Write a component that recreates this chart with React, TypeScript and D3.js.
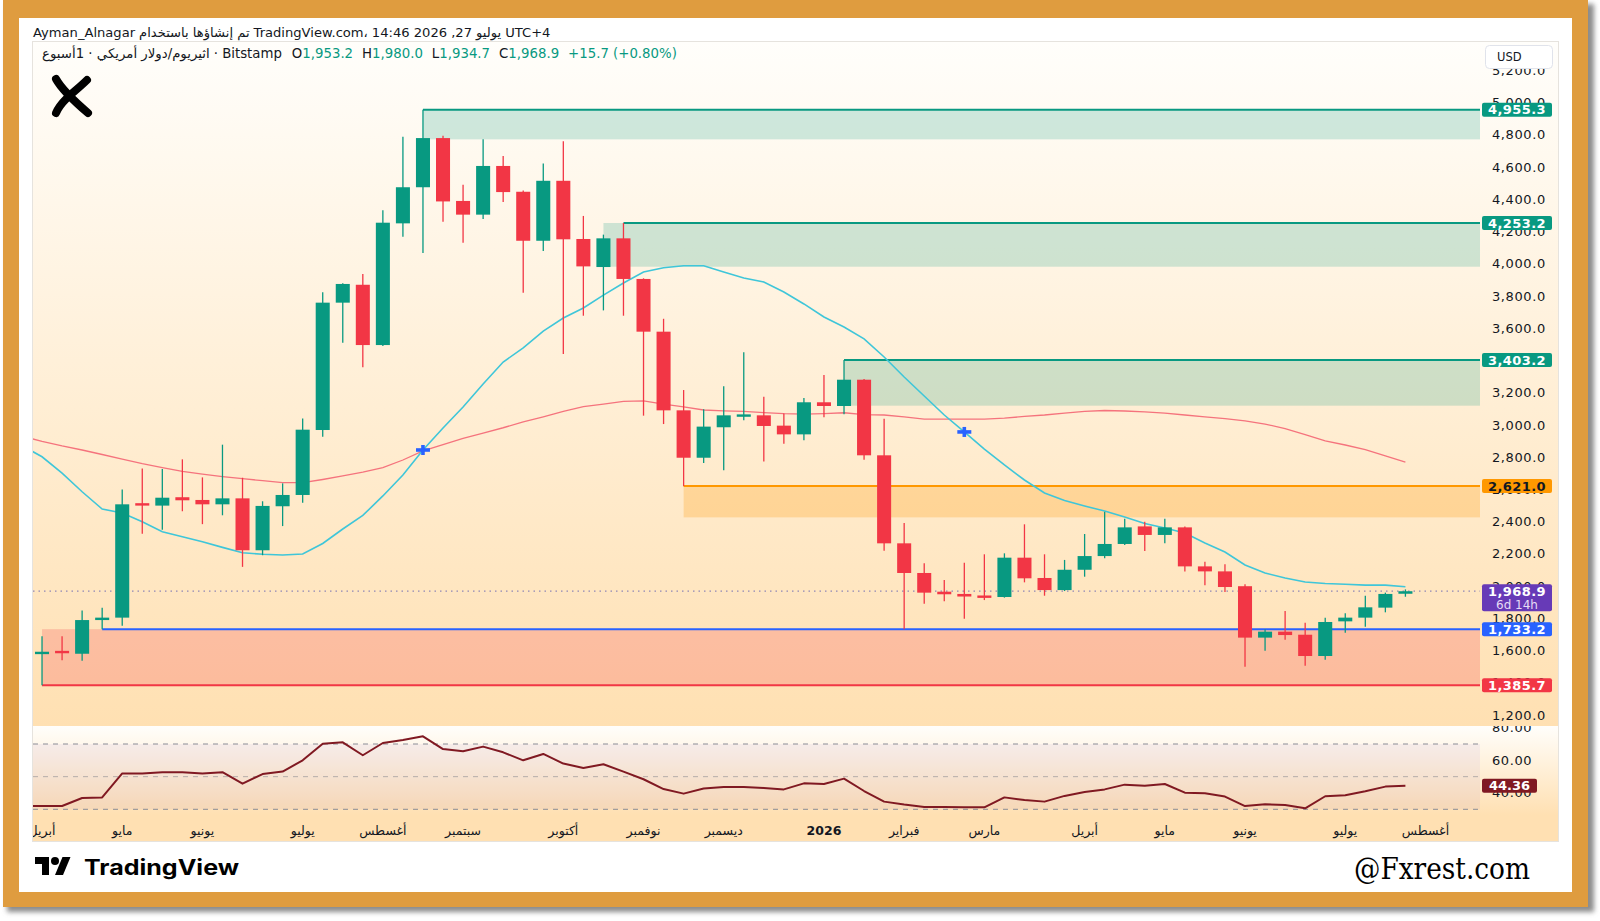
import { useLayoutEffect, useRef, useState } from 'react';
import * as d3 from 'd3';

// ETH/USD weekly candles (Bitstamp)
const open = [1580, 1598, 1581, 1790, 1805, 2515, 2500, 2552, 2535, 2508, 2545, 2223, 2496, 2566, 2969, 3759, 3870, 3496, 4251, 4475, 4780, 4390, 4305, 4607, 4447, 4143, 4515, 4154, 3980, 4158, 3906, 3579, 3091, 2797, 2986, 3055, 3060, 2996, 2942, 3141, 3118, 3281, 2812, 2266, 2082, 1966, 1952, 1940, 1933, 2177, 2051, 1976, 2102, 2187, 2262, 2371, 2318, 2365, 2123, 2092, 2000, 1681, 1718, 1699, 1567, 1782, 1805, 1867, 1953.2];
const high = [1690, 1690, 1850, 1867, 2600, 2730, 2727, 2787, 2675, 2878, 2673, 2527, 2638, 3041, 3823, 3880, 3937, 4332, 4788, 4955, 4795, 4491, 4772, 4669, 4455, 4623, 4760, 4297, 4181, 4253, 3910, 3659, 3217, 3097, 3240, 3451, 3176, 3072, 3167, 3310, 3403, 3285, 3039, 2392, 2142, 2038, 2146, 2198, 2204, 2384, 2198, 2163, 2324, 2462, 2419, 2400, 2419, 2370, 2152, 2136, 2012, 1733, 1846, 1774, 1805, 1832, 1941, 1960, 1980.0];
const low = [1386, 1540, 1538, 1733, 1755, 2325, 2350, 2465, 2385, 2440, 2120, 2192, 2373, 2518, 2927, 3511, 3358, 3490, 4168, 4067, 4261, 4131, 4278, 4383, 3821, 4079, 3440, 3678, 3711, 3678, 3058, 3006, 2621, 2764, 2719, 3030, 2773, 2884, 2905, 3048, 3066, 2785, 2220, 1733, 1891, 1906, 1798, 1914, 1929, 2024, 1941, 1970, 2059, 2173, 2255, 2218, 2266, 2092, 2006, 1964, 1501, 1600, 1668, 1507, 1544, 1712, 1749, 1838, 1934.7];
const close = [1592, 1585, 1790, 1805, 2508, 2500, 2549, 2533, 2508, 2545, 2223, 2498, 2566, 2971, 3759, 3875, 3496, 4255, 4475, 4780, 4387, 4305, 4607, 4445, 4143, 4515, 4152, 3984, 4158, 3906, 3579, 3091, 2797, 2990, 3060, 3062, 2994, 2942, 3141, 3118, 3281, 2812, 2266, 2082, 1960, 1950, 1936, 1930, 2177, 2049, 1976, 2102, 2187, 2262, 2365, 2318, 2365, 2123, 2092, 1995, 1681, 1718, 1697, 1567, 1778, 1805, 1869, 1952, 1968.9];

// moving averages as drawn (cyan fast, red slow); first value = the week before the first candle
const maFast = [2872, 2803, 2702, 2586, 2479, 2454, 2400, 2338, 2307, 2276, 2241, 2208, 2198, 2194, 2200, 2265, 2355, 2439, 2560, 2690, 2845, 2981, 3112, 3254, 3391, 3478, 3583, 3664, 3726, 3806, 3881, 3949, 3976, 3988, 3988, 3949, 3912, 3887, 3825, 3751, 3670, 3608, 3534, 3422, 3298, 3180, 3062, 2957, 2851, 2752, 2659, 2578, 2532, 2498, 2466, 2429, 2389, 2361, 2330, 2268, 2212, 2132, 2082, 2051, 2026, 2017, 2012, 2007, 2007, 1997];
const maSlow = [2932, 2898, 2870, 2845, 2817, 2789, 2761, 2736, 2712, 2695, 2680, 2667, 2655, 2643, 2642, 2662, 2684, 2708, 2736, 2783, 2839, 2879, 2917, 2950, 2983, 3019, 3051, 3084, 3114, 3130, 3147, 3150, 3130, 3112, 3093, 3088, 3085, 3077, 3071, 3068, 3071, 3076, 3065, 3062, 3050, 3037, 3037, 3037, 3037, 3043, 3053, 3062, 3074, 3084, 3090, 3087, 3081, 3074, 3062, 3050, 3040, 3025, 3006, 2978, 2941, 2901, 2876, 2848, 2808, 2770];
const rsi = [32.0, 32.0, 32.0, 36.9, 37.3, 52.0, 52.0, 52.7, 52.7, 52.0, 52.7, 45.7, 51.6, 53.1, 60.0, 70.2, 71.0, 63.1, 70.6, 72.4, 74.7, 66.9, 65.5, 68.4, 64.9, 60.0, 63.9, 58.0, 55.3, 57.6, 53.1, 48.4, 42.4, 39.6, 42.7, 43.7, 43.7, 43.1, 42.2, 45.9, 45.5, 48.8, 41.2, 34.7, 32.9, 31.4, 31.4, 31.2, 31.2, 37.3, 35.7, 34.7, 38.2, 40.6, 42.2, 45.1, 44.5, 45.5, 40.2, 39.8, 37.8, 32.0, 33.1, 32.7, 30.6, 38.0, 38.6, 41.0, 43.9, 44.36];
const crossBars = [19, 46];

const monthTicks: [string, string][] = [
  ['2025-04-07', 'أبريل'], ['2025-05-05', 'مايو'], ['2025-06-02', 'يونيو'], ['2025-07-07', 'يوليو'],
  ['2025-08-04', 'أغسطس'], ['2025-09-01', 'سبتمبر'], ['2025-10-06', 'أكتوبر'], ['2025-11-03', 'نوفمبر'],
  ['2025-12-01', 'ديسمبر'], ['2026-01-05', '2026'], ['2026-02-02', 'فبراير'], ['2026-03-02', 'مارس'],
  ['2026-04-06', 'أبريل'], ['2026-05-04', 'مايو'], ['2026-06-01', 'يونيو'], ['2026-07-06', 'يوليو'],
  ['2026-08-03', 'أغسطس'],
];
const priceTicks = [1200, 1400, 1600, 1800, 2000, 2200, 2400, 2600, 2800, 3000, 3200, 3400, 3600, 3800, 4000, 4200, 4400, 4600, 4800, 5000, 5200];
const rsiTicks = [40, 60, 80];

const zones = [
  { top: 4955.3, bottom: 4772, from: 19, lineFrom: 19, color: 'green' },
  { top: 4253.2, bottom: 3982, from: 28, lineFrom: 29, color: 'green' },
  { top: 3403.2, bottom: 3120, from: 40, lineFrom: 40, color: 'green' },
  { top: 2621.0, bottom: 2427, from: 32, lineFrom: 32, color: 'orange' },
  { top: 1733.2, bottom: 1385.7, from: 0, lineFrom: 3, color: 'red' },
];
const lastPrice = 1968.9;
const lastRsi = 44.36;

const GREEN = '#089981';
const RED = '#f23645';
const BLUE = '#2962ff';
const ORANGE = '#ff9800';
const TEXT = '#131722';
const FONT = 'DejaVu Sans';

const weeks = d3.timeMonday.range(new Date(2025, 3, 7), new Date(2026, 7, 11));
const parse = d3.timeParse('%Y-%m-%d');
const fmt = d3.format(',.1f');

type Run = { t: string; gap?: number; fill?: string; weight?: number };

function TextRow({ x, y, runs, size = 12.5 }: { x: number; y: number; runs: Run[]; size?: number }) {
  const refs = useRef<(SVGTextElement | null)[]>([]);
  const [xs, setXs] = useState<number[] | null>(null);
  useLayoutEffect(() => {
    let cx = x;
    const out: number[] = [];
    runs.forEach((r, i) => {
      out.push(cx);
      const el = refs.current[i];
      cx += (el ? el.getComputedTextLength() : 0) + (r.gap ?? 0);
    });
    setXs(out);
  }, []);
  return (
    <g fontFamily={FONT} fontSize={size}>
      {runs.map((r, i) => (
        <text key={i} ref={(el) => { refs.current[i] = el; }} x={xs ? xs[i] : x} y={y}
          fill={r.fill ?? TEXT} fontWeight={r.weight ?? 400} visibility={xs ? 'visible' : 'hidden'}>{r.t}</text>
      ))}
    </g>
  );
}

const App = () => {
  const x = d3.scaleLinear().domain([-0.45, 71.72]).range([33, 1480]);
  const y = d3.scaleLinear().domain([1139, 5376]).range([725, 42]);
  const ry = d3.scaleLinear().domain([30, 70]).range([809.3, 744]);
  const [pl, pr] = x.range();
  const bw = (x(1) - x(0)) * 0.7;
  const idxOf = (s: string) => d3.timeMonday.count(weeks[0], parse(s) as Date);

  // series that start one week before the first candle
  const lineP = d3.line<number>().x((_, i) => x(i - 1)).y((d) => y(d));
  const lineR = d3.line<number>().x((_, i) => x(i - 1)).y((d) => ry(d));

  const zoneFill: Record<string, string> = { green: 'rgba(8,153,129,0.2)', orange: 'rgba(255,152,0,0.25)', red: 'rgba(242,54,69,0.22)' };
  const zoneLine: Record<string, string> = { green: GREEN, orange: ORANGE, red: BLUE };

  const badges = [
    { v: 4955.3, bg: GREEN, fg: '#fff' },
    { v: 4253.2, bg: GREEN, fg: '#fff' },
    { v: 3403.2, bg: GREEN, fg: '#fff' },
    { v: 2621.0, bg: ORANGE, fg: TEXT },
    { v: 1733.2, bg: BLUE, fg: '#fff' },
    { v: 1385.7, bg: RED, fg: '#fff' },
  ];

  const header1: Run[] = [
    { t: 'Ayman_Alnagar', gap: 4 },
    { t: 'تم إنشاؤها باستخدام', gap: 4 },
    { t: 'TradingView.com،', gap: 4 },
    { t: '14:46 2026 ,27', gap: 4 },
    { t: 'يوليو', gap: 4 },
    { t: 'UTC+4' },
  ];
  const header2: Run[] = [
    { t: 'اثيريوم/دولار أمريكي · 1أسبوع', gap: 4 },
    { t: '· Bitstamp', gap: 10 },
    { t: 'O' }, { t: fmt(open[68]), fill: GREEN, gap: 9 },
    { t: 'H' }, { t: fmt(high[68]), fill: GREEN, gap: 9 },
    { t: 'L' }, { t: fmt(low[68]), fill: GREEN, gap: 9 },
    { t: 'C' }, { t: fmt(close[68]), fill: GREEN, gap: 9 },
    { t: '+15.7 (+0.80%)', fill: GREEN },
  ];

  return (
    <svg width={1600} height={921} style={{ position: 'absolute', left: 0, top: 0, background: '#fff' }}>
      <defs>
        <linearGradient id="bgPrice" x1="0" y1="0" x2="0" y2="1">
          <stop offset="0" stopColor="#fffefb" />
          <stop offset="1" stopColor="#ffe0b2" />
        </linearGradient>
        <linearGradient id="bgRsi" x1="0" y1="0" x2="0" y2="1">
          <stop offset="0" stopColor="#fffefb" />
          <stop offset="1" stopColor="#ffe0b2" />
        </linearGradient>
        <filter id="shadow" x="-5%" y="-5%" width="110%" height="110%">
          <feGaussianBlur stdDeviation="2.5" />
        </filter>
        <clipPath id="plot"><rect x={pl} y={42} width={pr - pl} height={683} /></clipPath>
        <clipPath id="rsiPlot"><rect x={pl} y={726} width={pr - pl} height={89} /></clipPath>
        <clipPath id="timeAxis"><rect x={33} y={815} width={1525} height={26} /></clipPath>
        <clipPath id="priceAxis"><rect x={pr} y={42} width={78} height={683} /></clipPath>
        <clipPath id="rsiAxis"><rect x={pr} y={726} width={78} height={89} /></clipPath>
      </defs>

      {/* frame */}
      <rect x={7} y={4} width={1587} height={908} fill="#8c8c8c" filter="url(#shadow)" />
      <rect x={3} y={0} width={1585} height={907} fill="#df9c3f" />
      <rect x={19} y={18} width={1553} height={874} fill="#ffffff" />

      {/* panes */}
      <rect x={33} y={42} width={1525} height={684} fill="url(#bgPrice)" />
      <rect x={33} y={726} width={1525} height={89} fill="url(#bgRsi)" />
      <rect x={33} y={815} width={1525} height={26} fill="#ffe0b2" />
      <rect x={32.5} y={41.5} width={1526} height={800} fill="none" stroke="#e6e3de" />

      <TextRow x={33} y={36.5} runs={header1} size={13.1} />
      <TextRow x={42} y={58} runs={header2} size={13.3} />

      {/* logo */}
      <g stroke="#000" strokeWidth={8} strokeLinecap="round" fill="none">
        <path d="M56,79 C62,90 74,101 88,113" />
        <path d="M87,80 C80,87 72,93 67,98 C62,103 58,108 56,113" />
      </g>

      {/* price pane */}
      <g clipPath="url(#plot)">
        {zones.map((z, i) => (
          <g key={i}>
            <rect x={x(z.from)} y={y(z.top)} width={pr - x(z.from)} height={y(z.bottom) - y(z.top)} fill={zoneFill[z.color]} />
            <line x1={x(z.lineFrom)} x2={pr} y1={y(z.top)} y2={y(z.top)} stroke={zoneLine[z.color]} strokeWidth={2} />
            {z.color === 'red' && (
              <line x1={x(z.from)} x2={pr} y1={y(z.bottom)} y2={y(z.bottom)} stroke={RED} strokeWidth={2} />
            )}
          </g>
        ))}
        <line x1={pl} x2={pr} y1={y(lastPrice)} y2={y(lastPrice)} stroke="#8f86b5" strokeWidth={1.2} strokeDasharray="1.5,4" />
        <path d={lineP(maSlow) ?? ''} fill="none" stroke="#f5737d" strokeWidth={1.3} />
        <path d={lineP(maFast) ?? ''} fill="none" stroke="#3fc6d9" strokeWidth={1.6} />
        {close.map((c, i) => {
          const o = open[i];
          const col = c >= o ? GREEN : RED;
          const cx = x(i);
          const t = y(Math.max(o, c));
          const b = y(Math.min(o, c));
          const h = Math.max(2.4, b - t);
          return (
            <g key={i}>
              <line x1={cx} x2={cx} y1={y(high[i])} y2={y(low[i])} stroke={col} strokeWidth={1.3} />
              <rect x={cx - bw / 2} y={(t + b) / 2 - h / 2} width={bw} height={h} fill={col} />
            </g>
          );
        })}
        {crossBars.map((i) => (
          <g key={i} stroke={BLUE} strokeWidth={3.6}>
            <line x1={x(i) - 7} x2={x(i) + 7} y1={y(maFast[i + 1])} y2={y(maFast[i + 1])} />
            <line x1={x(i)} x2={x(i)} y1={y(maFast[i + 1]) - 5} y2={y(maFast[i + 1]) + 5} />
          </g>
        ))}
      </g>

      {/* price axis */}
      <g clipPath="url(#priceAxis)" fontFamily={FONT}>
        {priceTicks.map((v) => (
          <text key={v} x={1492} y={y(v) + 4.5} fontSize={13} letterSpacing={0.6} fill={TEXT}>{fmt(v)}</text>
        ))}
        {badges.map((b) => (
          <g key={b.v}>
            <rect x={1482} y={y(b.v) - 7} width={70} height={14} rx={2} fill={b.bg} />
            <text x={1517} y={y(b.v) + 4.6} textAnchor="middle" fontSize={13} fontWeight={700} letterSpacing={0.4} fill={b.fg}>{fmt(b.v)}</text>
          </g>
        ))}
        <rect x={1482} y={y(lastPrice) - 7} width={70} height={27} rx={2} fill="#673ab7" />
        <text x={1517} y={y(lastPrice) + 4.6} textAnchor="middle" fontSize={13} fontWeight={700} letterSpacing={0.4} fill="#fff">{fmt(lastPrice)}</text>
        <text x={1517} y={y(lastPrice) + 17.5} textAnchor="middle" fontSize={12} fill="#e6dcf5">6d 14h</text>
      </g>
      <rect x={1485.5} y={45.5} width={67} height={23} rx={4} fill="#fff" stroke="#e0e3eb" />
      <text x={1497} y={61} fontFamily={FONT} fontSize={11.5} fill={TEXT}>USD</text>

      {/* RSI pane */}
      <g clipPath="url(#rsiPlot)">
        <rect x={pl} y={ry(70)} width={pr - pl} height={ry(30) - ry(70)} fill="rgba(126,87,194,0.07)" />
        {[70, 50, 30].map((v) => (
          <line key={v} x1={pl} x2={pr} y1={ry(v)} y2={ry(v)} stroke={v === 50 ? 'rgba(120,123,134,0.5)' : '#8a8d96'} strokeDasharray="5,5" />
        ))}
        <path d={lineR(rsi) ?? ''} fill="none" stroke="#801922" strokeWidth={2} strokeLinejoin="round" />
      </g>
      <g clipPath="url(#rsiAxis)" fontFamily={FONT}>
        {rsiTicks.map((v) => (
          <text key={v} x={1492} y={ry(v) + 4.5} fontSize={13} letterSpacing={0.6} fill={TEXT}>{v.toFixed(2)}</text>
        ))}
        <rect x={1482} y={ry(lastRsi) - 7} width={55} height={14} rx={2} fill="#801922" />
        <text x={1509.5} y={ry(lastRsi) + 4.6} textAnchor="middle" fontSize={13} fontWeight={700} fill="#fff">{lastRsi.toFixed(2)}</text>
      </g>

      {/* time axis */}
      <g clipPath="url(#timeAxis)" fontFamily={FONT} fontSize={12.5} fill={TEXT}>
        {monthTicks.map(([d, label]) => (
          <text key={d} x={x(idxOf(d))} y={834.5} textAnchor="middle" fontWeight={label === '2026' ? 700 : 400}>{label}</text>
        ))}
      </g>

      {/* footer */}
      <g fill="#000" transform="translate(35,857)">
        <path d="M14 18H7V7H0V0h14v18z" />
        <circle cx={20} cy={4} r={4} />
        <path d="M28 18h-8l7.5-18h8L28 18z" />
      </g>
      <text x={84} y={875} fontFamily="Inter, 'Open Sans', sans-serif" fontWeight={700} fontSize={21} textLength={155} lengthAdjust="spacingAndGlyphs" fill="#000">TradingView</text>
      <text x={1354} y={879} fontFamily="'DejaVu Serif Condensed', 'DejaVu Serif', serif" fontSize={30} textLength={176} lengthAdjust="spacingAndGlyphs" fill="#000">@Fxrest.com</text>
    </svg>
  );
};

export default App;
